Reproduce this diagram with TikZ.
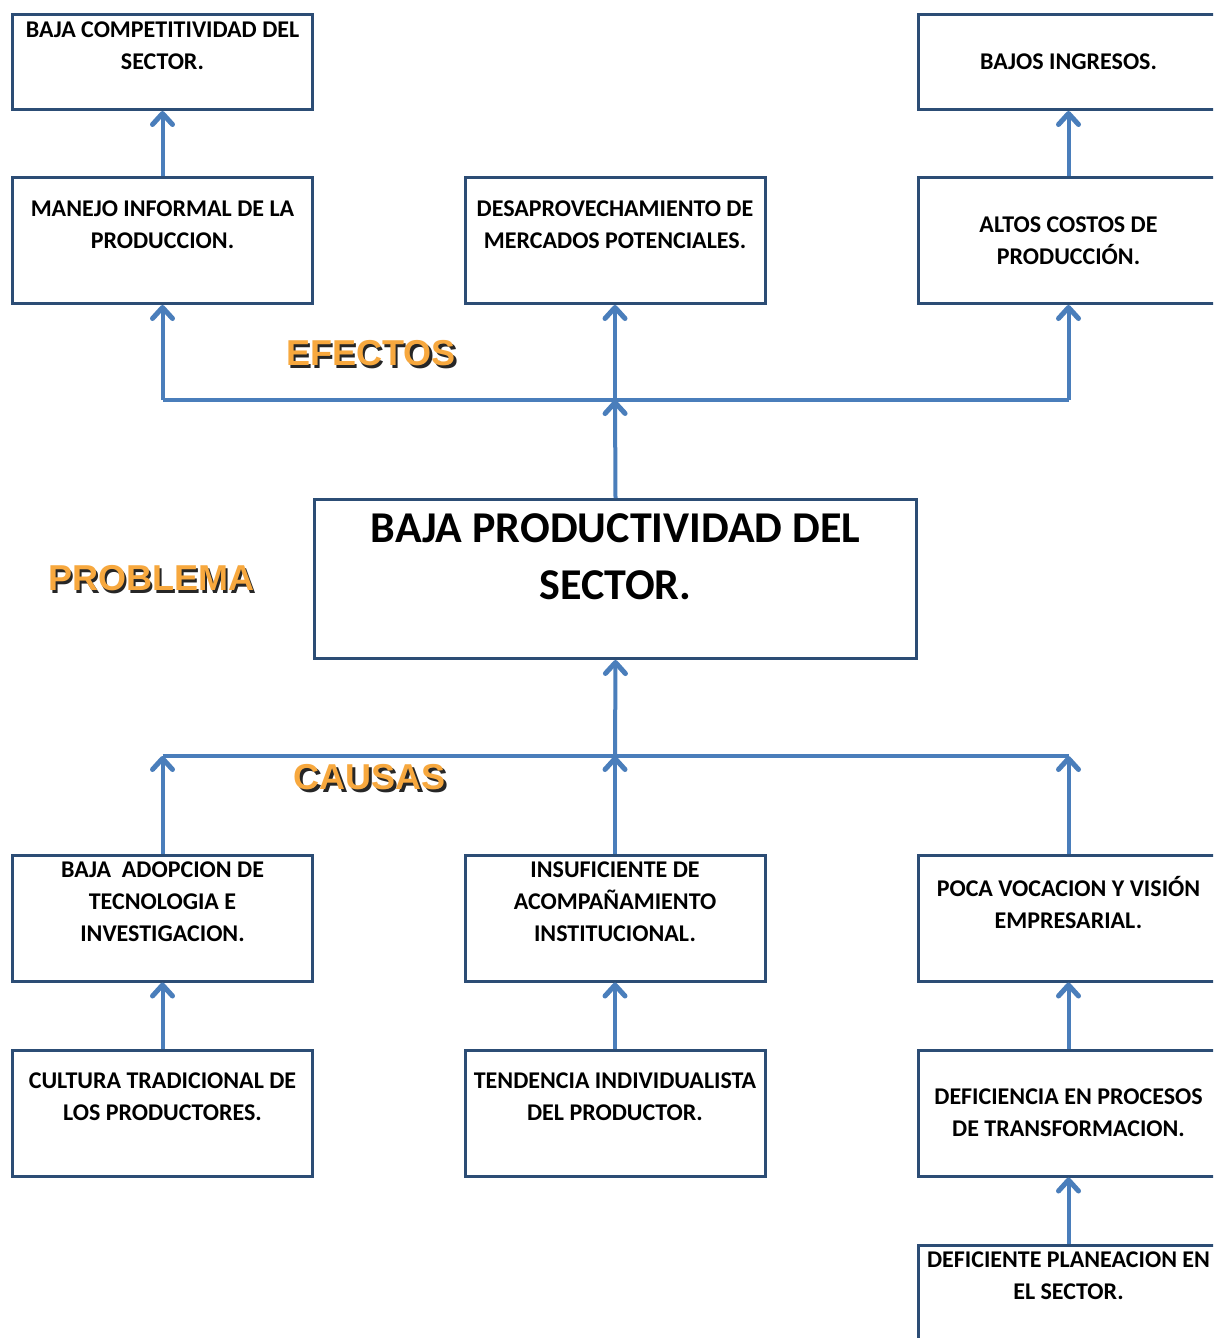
\documentclass[tikz,border=0pt]{standalone}
\usepackage{fontspec}
\setmainfont{Carlito}
\newfontfamily\rotulofont{Liberation Sans}
\usetikzlibrary{arrows.meta}
\definecolor{borde}{HTML}{2C4D75}
\definecolor{flecha}{HTML}{4A7EBB}
\definecolor{naranja}{HTML}{F7A83E}
% texto con sombra negra desplazada
\newcommand{\sombreado}[1]{\makebox[0pt][l]{\kern2.5pt\raisebox{-3pt}{\color{black!85}#1}}#1}

\begin{document}
\begin{tikzpicture}[x=1pt, y=-1pt,
  caja/.style={draw=borde, line width=3pt, minimum width=300pt, minimum height=126pt,
    inner sep=0pt, align=center, font=\fontsize{24}{32}\selectfont\bfseries},
  cajabaja/.style={caja, minimum height=95pt},
  linea/.style={draw=flecha, line width=4pt},
  flechita/.style={linea, -{Straight Barb[length=11pt, width=20pt, line width=5pt, round]}},
  rotulo/.style={font=\rotulofont\fontsize{36}{36}\selectfont\bfseries, text=naranja}]

  % fondo y recorte
  \path[use as bounding box, fill=white] (0,0) rectangle (1213,1338);
  \clip (0,0) rectangle (1213,1338);

  % efectos
  \node[cajabaja] (compet) at (162.5,62) {BAJA COMPETITIVIDAD DEL\\SECTOR.\\~};
  \node[cajabaja] (ingresos) at (1068.5,62) {BAJOS INGRESOS.};
  \node[caja] (manejo) at (162.5,240.5) {MANEJO INFORMAL DE LA\\PRODUCCION.\\~};
  \node[caja] (mercados) at (615,240.5) {DESAPROVECHAMIENTO DE\\MERCADOS POTENCIALES.\\~};
  \node[caja] (costos) at (1068.5,240.5) {ALTOS COSTOS DE\\PRODUCCIÓN.};

  % problema
  \node[caja, minimum width=602pt, minimum height=159pt, font=\fontsize{44}{57}\selectfont\bfseries]
    (problema) at (615.5,579) {BAJA PRODUCTIVIDAD DEL\\SECTOR.\\[-12pt]~};

  % causas
  \node[caja] (adopcion) at (162.5,918) {BAJA \ ADOPCION DE\\TECNOLOGIA E\\INVESTIGACION.\\~};
  \node[caja] (acompan) at (615,918) {INSUFICIENTE DE\\ACOMPAÑAMIENTO\\INSTITUCIONAL.\\~};
  \node[caja] (vocacion) at (1068.5,918) {POCA VOCACION Y VISIÓN\\EMPRESARIAL.\\~};
  \node[caja] (cultura) at (162.5,1113) {CULTURA TRADICIONAL DE\\LOS PRODUCTORES.\\~};
  \node[caja] (tendencia) at (615,1113) {TENDENCIA INDIVIDUALISTA\\DEL PRODUCTOR.\\~};
  \node[caja] (procesos) at (1068.5,1113) {DEFICIENCIA EN PROCESOS\\DE TRANSFORMACION.};
  \node[caja] (planeacion) at (1068.5,1308) {DEFICIENTE PLANEACION EN\\EL SECTOR.\\~\\~};

  % ejes de las flechas
  \coordinate (ejeE) at (615,400);
  \coordinate (ejeC) at (615,756);

  % flechas de efectos
  \draw[linea] (manejo.south |- ejeE) -- (costos.south |- ejeE);
  \draw[flechita] (problema.north) -- (ejeE);
  \draw[flechita] (manejo.south |- ejeE) -- (manejo.south);
  \draw[flechita] (ejeE) -- (mercados.south);
  \draw[flechita] (costos.south |- ejeE) -- (costos.south);
  \draw[flechita] (manejo) -- (compet);
  \draw[flechita] (costos) -- (ingresos);

  % flechas de causas
  \draw[linea] (adopcion.north |- ejeC) -- (vocacion.north |- ejeC);
  \draw[flechita] (ejeC) -- (problema.south);
  \draw[flechita] (adopcion.north) -- (adopcion.north |- ejeC);
  \draw[flechita] (acompan.north) -- (ejeC);
  \draw[flechita] (vocacion.north) -- (vocacion.north |- ejeC);
  \draw[flechita] (cultura) -- (adopcion);
  \draw[flechita] (tendencia) -- (acompan);
  \draw[flechita] (procesos) -- (vocacion);
  \draw[flechita] (planeacion) -- (procesos);

  % rotulos
  \node[rotulo] (efectos) at (371,355) {\sombreado{EFECTOS}};
  \node[rotulo] (problemaTit) at (151,580) {\sombreado{PROBLEMA}};
  \node[rotulo] (causas) at (370,779) {\sombreado{CAUSAS}};
\end{tikzpicture}
\end{document}
